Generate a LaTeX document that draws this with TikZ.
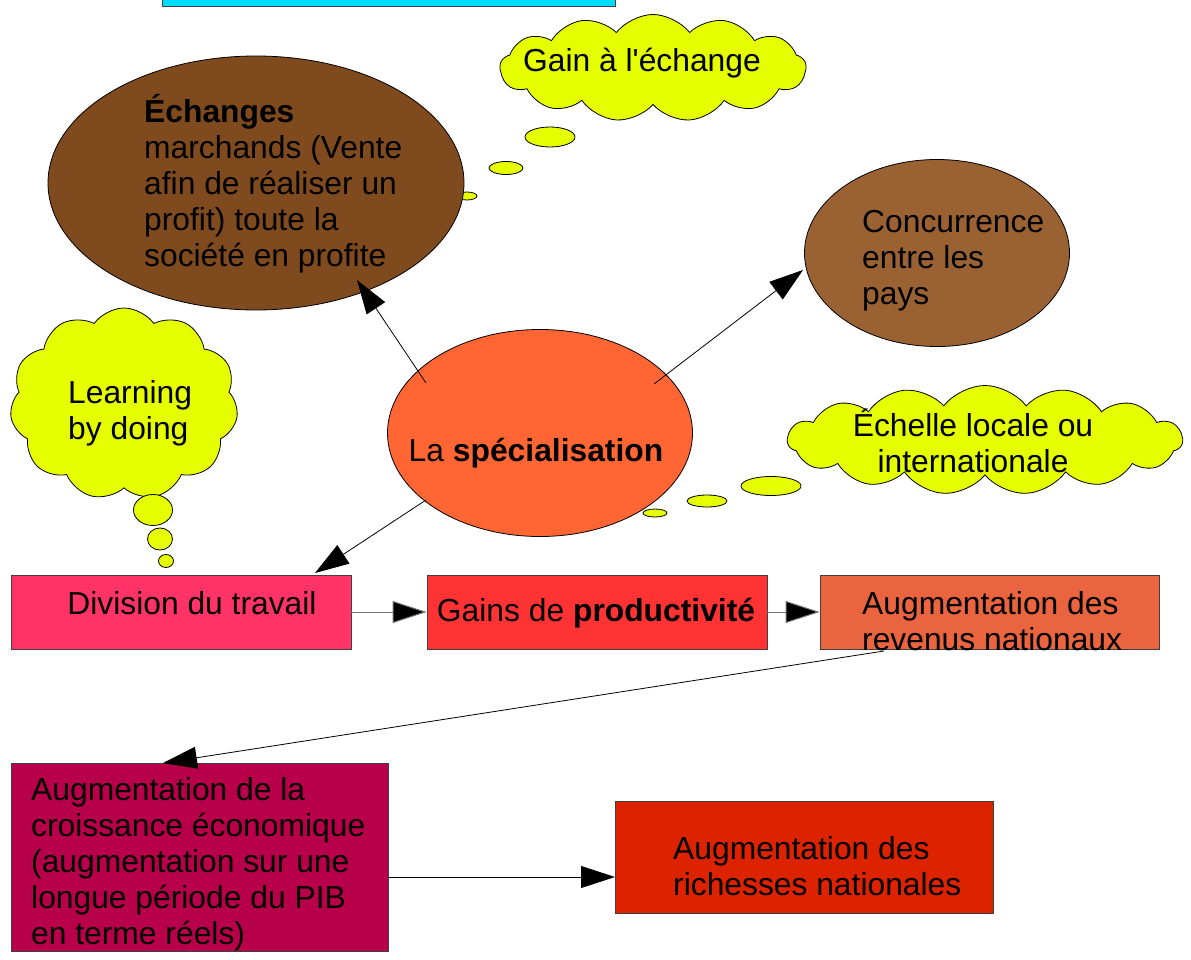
\documentclass[tikz,border=0pt]{standalone}
\usepackage{fontspec}
\setmainfont{Liberation Sans}[Ligatures=TeXOff]
\usetikzlibrary{shapes.geometric,shapes.symbols,arrows.meta}
\definecolor{cyanbox}{HTML}{00DCFF}
\definecolor{cloudy}{HTML}{E6FF00}
\definecolor{brownA}{HTML}{7F4A1D}
\definecolor{brownB}{HTML}{9A6233}
\definecolor{specc}{HTML}{FF6633}
\definecolor{divc}{HTML}{FF3366}
\definecolor{gainc}{HTML}{FF3333}
\definecolor{revc}{HTML}{E9643F}
\definecolor{croc}{HTML}{B8004A}
\definecolor{richc}{HTML}{DD2200}
\tikzset{
  txt/.style={inner sep=0pt, font=\fontsize{31.8}{36}\selectfont},
  oval/.style={ellipse, draw=black, line width=0.8pt, inner sep=0pt},
  boxn/.style={rectangle, draw=black!75, line width=0.8pt, inner sep=0pt},
  cloudn/.style={cloud, draw=black, fill=cloudy, line width=0.8pt, cloud puffs=11, cloud puff arc=110, cloud ignores aspect, inner sep=0pt},
  bubble/.style={ellipse, draw=black, fill=cloudy, line width=0.8pt, inner sep=0pt},
  conn/.style={draw=black, line width=0.8pt, -{Triangle[length=34pt,width=22pt]}},
  connG/.style={draw=black!55, line width=1pt, -{Triangle[length=34pt,width=22pt,fill=black]}},
}
\begin{document}
\begin{tikzpicture}[x=1pt,y=-1pt]
\useasboundingbox (0,0) rectangle (1191,960);
% top cyan box
\node[boxn, fill=cyanbox, minimum width=453pt, minimum height=40pt, anchor=south west] (top) at (162,7) {};
% clouds
\node[cloudn, cloud puffs=13, cloud puff arc=105, minimum width=306pt, minimum height=107pt] (gaincloud) at (653,68) {};
\node[txt] (gaintxt) at (642,63) {Gain à l'échange};
\node[bubble, minimum width=50pt, minimum height=20pt] (gb1) at (550,137) {};
\node[bubble, minimum width=34pt, minimum height=13pt] (gb2) at (506,168) {};
\node[bubble, minimum width=20pt, minimum height=8pt] (gb3) at (467,196) {};
% echanges ellipse
\node[oval, fill=brownA, minimum width=416pt, minimum height=254pt] (ech) at (256,183) {};
\node[txt, align=left, anchor=west] (echtxt) at (144,184) {\textbf{Échanges}\\marchands (Vente\\afin de réaliser un\\profit) toute la\\société en profite};
% concurrence
\node[oval, fill=brownB, minimum width=265pt, minimum height=187pt] (conc) at (937,253) {};
\node[txt, align=left, anchor=west] (conctxt) at (862,261) {Concurrence\\entre les\\pays};
% learning cloud
\node[cloudn, minimum width=228pt, minimum height=192pt] (learn) at (124,404) {};
\node[txt, align=left, anchor=west] (learntxt) at (68,413) {Learning\\by doing};
\node[bubble, minimum width=39pt, minimum height=31pt] (lb1) at (153,510) {};
\node[bubble, minimum width=25pt, minimum height=22pt] (lb2) at (160,539) {};
\node[bubble, minimum width=15pt, minimum height=13pt] (lb3) at (166,561) {};
% echelle cloud
\node[cloudn, cloud puffs=15, cloud puff arc=105, minimum width=395pt, minimum height=109pt] (echel) at (985,440) {};
\node[txt, align=center] (echeltxt) at (973,441) {Échelle locale ou\\internationale};
\node[bubble, minimum width=60pt, minimum height=19pt] (eb1) at (771,486) {};
\node[bubble, minimum width=40pt, minimum height=12pt] (eb2) at (707,501) {};
\node[bubble, minimum width=24pt, minimum height=8pt] (eb3) at (655,513) {};
% specialisation
\node[oval, fill=specc, minimum width=305pt, minimum height=207pt] (spec) at (540,433) {};
\node[txt] (spectxt) at (536,453) {La \textbf{spécialisation}};
% boxes
\node[boxn, fill=divc, minimum width=340pt, minimum height=74pt] (div) at (181,612) {};
\node[txt] (divtxt) at (192,603) {Division du travail};
\node[boxn, fill=gainc, minimum width=340pt, minimum height=74pt] (gains) at (597,612) {};
\node[txt] (gainstxt) at (596,613) {Gains de \textbf{productivité}};
\node[boxn, fill=revc, minimum width=339pt, minimum height=74pt] (rev) at (989.5,612) {};
\node[txt, align=left, anchor=west] (revtxt) at (862,621) {Augmentation des\\revenus nationaux};
\node[boxn, fill=croc, minimum width=377pt, minimum height=188pt] (cro) at (199.5,857) {};
\node[txt, align=left, anchor=west] (crotxt) at (31,864) {Augmentation de la\\croissance économique\\(augmentation sur une\\longue période du PIB\\en terme réels)};
\node[boxn, fill=richc, minimum width=378pt, minimum height=112pt] (rich) at (804,857) {};
\node[txt, align=left, anchor=west] (richtxt) at (673,866) {Augmentation des\\richesses nationales};
% connector points
\coordinate (s1) at (426,383);
\coordinate (e1) at (357,280);
\coordinate (s2) at (654,384);
\coordinate (c2) at (803,270);
\coordinate (s3) at (426,500);
\coordinate (d3) at (315,573);
\coordinate (r1) at (884,651);
\coordinate (k1) at (163,763);
\coordinate (k2) at (388,877);
\coordinate (h2) at (615,877);
% connectors
\draw[conn] (s1) -- (e1);
\draw[conn] (s2) -- (c2);
\draw[conn] (s3) -- (d3);
\draw[connG] (div.east) -- (gains.west);
\draw[connG] (gains.east) -- (rev.west);
\draw[conn] (r1) -- (k1);
\draw[conn] (k2) -- (h2);
\end{tikzpicture}
\end{document}
